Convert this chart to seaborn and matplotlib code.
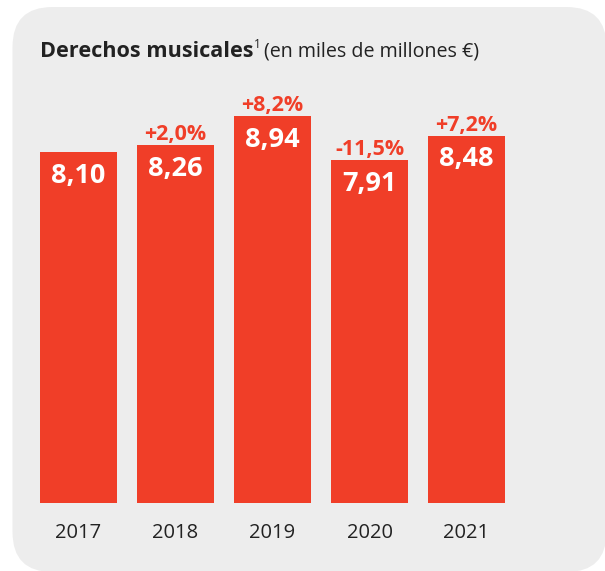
import matplotlib
matplotlib.use("Agg")
import matplotlib.pyplot as plt
from matplotlib.patches import FancyBboxPatch
from matplotlib.transforms import IdentityTransform
import seaborn as sns
import pandas as pd

years = ["2017", "2018", "2019", "2020", "2021"]
values = [8.10, 8.26, 8.94, 7.91, 8.48]
value_labels = ["8,10", "8,26", "8,94", "7,91", "8,48"]
change_labels = ["", "+2,0%", "+8,2%", "-11,5%", "+7,2%"]

RED = "#F03E28"
BG = "#EDEDED"
DARK = "#222222"

sns.set_theme(style="white")
plt.rcParams["font.family"] = ["Open Sans", "DejaVu Sans"]

fig = plt.figure(figsize=(6.05, 5.71), dpi=100)
fig.patch.set_facecolor("white")

# rounded grey panel (pixel coordinates)
panel = FancyBboxPatch((12.5, -1), 594, 565, boxstyle="round,pad=0,rounding_size=40",
                       transform=IdentityTransform(), facecolor=BG, edgecolor="none", zorder=-5)
fig.patches.append(panel)

ax = fig.add_axes([30 / 605, 68 / 571, 485 / 605, 433 / 571])
ax.set_zorder(1)
ax.set_facecolor("none")
df = pd.DataFrame({"year": years, "value": values})
sns.barplot(data=df, x="year", y="value", color=RED, saturation=1, width=0.8,
            linewidth=0, edgecolor="none", ax=ax)
ax.set_ylim(0, 10)
ax.set_xlim(-0.5, 4.5)
ax.set_xlabel("")
ax.set_ylabel("")
ax.set_yticks([])
for s in ax.spines.values():
    s.set_visible(False)
ax.tick_params(axis="x", length=0, pad=14.5, labelsize=14.5, labelcolor=DARK)

for i, (v, vl, cl) in enumerate(zip(values, value_labels, change_labels)):
    ax.annotate(vl, (i, v), xytext=(0, -17), textcoords="offset points",
                ha="center", va="center", color="white", fontsize=19.5, fontweight="bold")
    if cl:
        ax.annotate(cl, (i, v), xytext=(0, 3.6), textcoords="offset points",
                    ha="center", va="baseline", color=RED, fontsize=15.5, fontweight="bold")

# title pieces
fig.canvas.draw()
r = fig.canvas.get_renderer()
ty = 1 - 57 / 571
t1 = fig.text(40 / 605, ty, "Derechos musicales", fontsize=15.6, fontweight="bold",
              color=DARK, va="baseline", ha="left")
bb = t1.get_window_extent(r)
t2 = fig.text((bb.x1 + 0) / 605, ty + 9 / 571, "1", fontsize=8.5, color=DARK, va="baseline", ha="left")
bb2 = t2.get_window_extent(r)
t3 = fig.text((bb2.x1 + 4) / 605, ty, "(en miles de millones €)", fontsize=14.1,
              color=DARK, va="baseline", ha="left")

fig.savefig("out.png", dpi=100, facecolor="white")
